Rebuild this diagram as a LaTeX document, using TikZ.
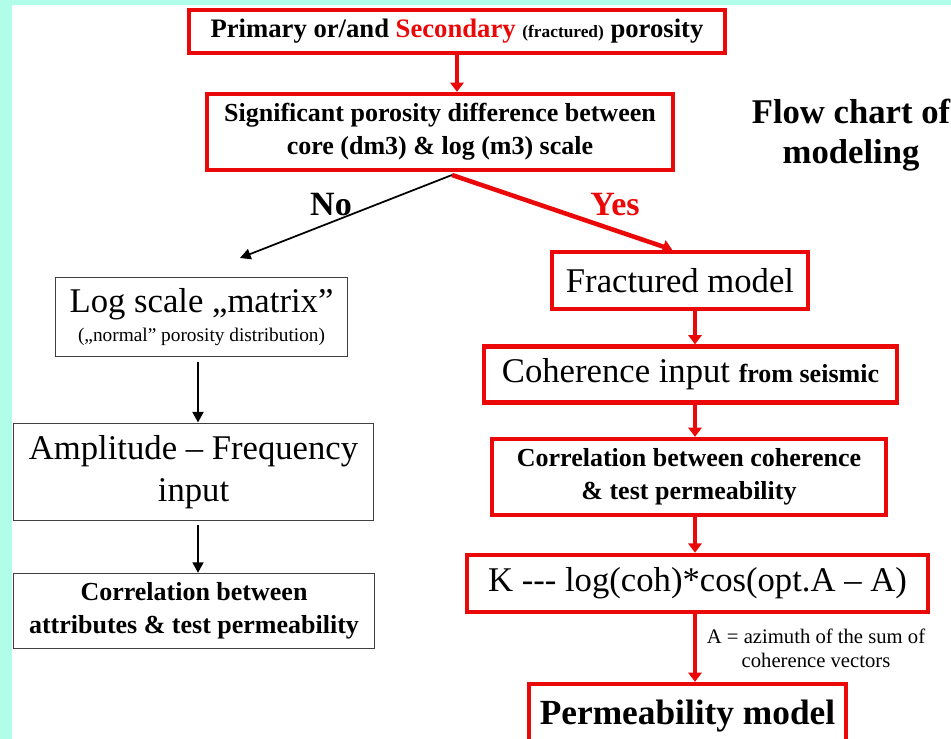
\documentclass[tikz,border=0pt]{standalone}
\usepackage{fontspec}
\setmainfont{Liberation Serif}
\usepackage{tikz}
\usetikzlibrary{arrows.meta,calc,positioning}
\definecolor{boxred}{RGB}{235,8,8}
\definecolor{aquabg}{RGB}{176,254,234}

\begin{document}
\begin{tikzpicture}[x=0.75pt,y=-0.75pt]
		\tikzstyle{redbox}=[rectangle, draw=boxred, line width=3.2pt, fill=white, align=center, inner sep=2pt]
		\tikzstyle{greybox}=[rectangle, draw=black!75, line width=1.1pt, fill=white, align=center, inner sep=2pt]
		\tikzstyle{connect}=[-{Triangle[width=8pt,length=8pt]}, line width=2.2pt]
		\tikzstyle{redconnect}=[-{Triangle[width=10pt,length=7pt]}, line width=3.4pt, draw=boxred]
		\tikzstyle{big}=[font=\fontsize{26}{31.5}\selectfont]
		\tikzstyle{bold}=[font=\bfseries\fontsize{19.5}{25}\selectfont]
		\useasboundingbox (0,0) rectangle (951,739);
		\fill[aquabg] (0,0) rectangle (951,739);
		\fill[white] (12,5) rectangle (951,739);
		
		\node[redbox, minimum width=402pt, minimum height=32pt, font=\bfseries\fontsize{20}{24}\selectfont] (prim) at (457,31.5) {Primary or/and {\color{boxred}Secondary} {\fontsize{13}{15}\selectfont(fractured)} porosity};
		\node[redbox, bold, minimum width=349pt, minimum height=57pt] (diff) at (440,132) {Significant porosity difference between\\core (dm3) \& log (m3) scale};
		
		\node[font=\bfseries\fontsize{26}{30}\selectfont, align=center] (title) at (851,135) {Flow chart of\\modeling};
		
		\coordinate (fork) at (452,175);
		\coordinate (noend) at (240,258);
		\node[font=\bfseries\fontsize{25.5}{30}\selectfont] (no) at (331,205) {No};
		\node[font=\bfseries\fontsize{25.5}{30}\selectfont, text=boxred] (yes) at (615,205) {Yes};
		
		% left branch
		\node[greybox, minimum width=219pt, minimum height=59pt] (logm) at (201.5,317) {{\fontsize{26}{26}\selectfont Log scale „matrix”}\\[5pt]{\fontsize{14.5}{16}\selectfont(„normal” porosity distribution)}};
		\node[greybox, big, minimum width=270pt, minimum height=73pt] (ampl) at (193.5,472) {Amplitude \textendash{} Frequency\\input};
		\node[greybox, bold, minimum width=271pt, minimum height=56pt] (attr) at (194,611) {Correlation between\\attributes \& test permeability};
		
		% right branch
		\node[redbox, big, minimum width=192pt, minimum height=43pt] (frac) at (680,280.5) {Fractured model};
		\node[redbox, big, minimum width=310pt, minimum height=42pt] (coh) at (690.5,374.5) {Coherence input {\bfseries\fontsize{19.5}{22}\selectfont from seismic}};
		\node[redbox, bold, minimum width=296pt, minimum height=57pt] (corr) at (689,477) {Correlation between coherence\\\& test permeability};
		\node[redbox, big, minimum width=346pt, minimum height=43pt] (kfor) at (697.5,583.5) {K -{}-{}- log(coh)*cos(opt.A \textendash{} A)};
		\node[redbox, font=\bfseries\fontsize{26.5}{30}\selectfont, minimum width=238pt, minimum height=48pt] (perm) at (687.5,716) {Permeability model};
		\node[align=center, font=\fontsize{15.5}{18}\selectfont] (azim) at (816,648) {A = azimuth of the sum of\\coherence vectors};
		
		\coordinate (lcol) at (198,0);
		\coordinate (rcol) at (695,0);
		
		\path (prim.south) edge [redconnect] (prim.south |- diff.north);
		\path (fork) edge [connect, line width=1.3pt] (noend);
		\path (fork) edge [redconnect] ($(frac.north west)!0.47!(frac.north east)$);
		
		\path (logm.south -| lcol) edge [connect, shorten <=4pt] (ampl.north -| lcol);
		\path (ampl.south -| lcol) edge [connect, shorten <=3pt] (attr.north -| lcol);
		
		\path (frac.south -| rcol) edge [redconnect] (coh.north -| rcol);
		\path (coh.south -| rcol) edge [redconnect] (corr.north -| rcol);
		\path (corr.south -| rcol) edge [redconnect] (kfor.north -| rcol);
		\path (kfor.south -| rcol) edge [redconnect] (perm.north -| rcol);

	\end{tikzpicture}
\end{document}
